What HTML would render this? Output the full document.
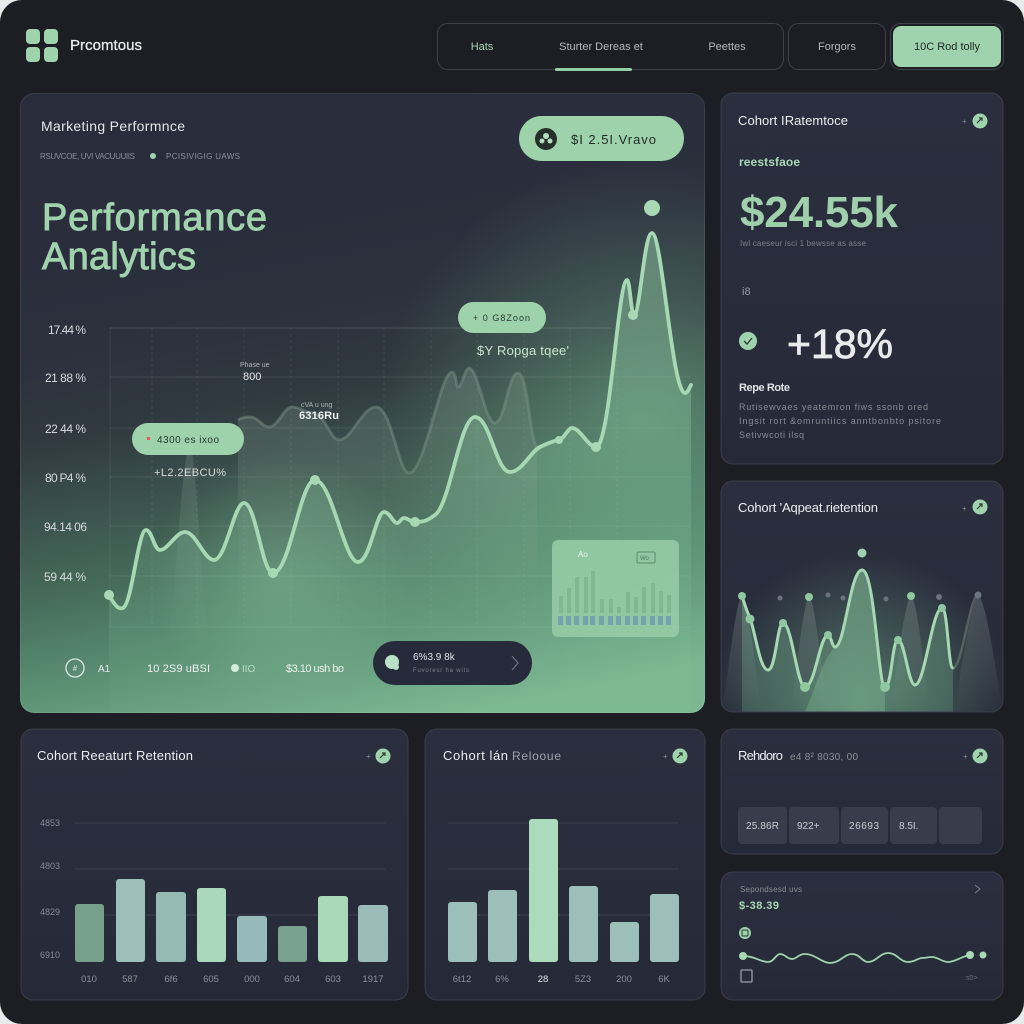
<!DOCTYPE html>
<html><head><meta charset="utf-8"><style>
html,body{margin:0;padding:0;background:#e9e9ea;}
svg{display:block;font-family:"Liberation Sans",sans-serif;}
</style></head><body>
<svg width="1024" height="1024" viewBox="0 0 1024 1024" xmlns="http://www.w3.org/2000/svg">
<defs>
<linearGradient id="mainbg" gradientUnits="userSpaceOnUse" x1="300" y1="100" x2="420" y2="720">
<stop offset="0" stop-color="#292c3b"/>
<stop offset="0.3" stop-color="#2b303d"/>
<stop offset="0.45" stop-color="#30393f"/>
<stop offset="0.7" stop-color="#466c5b"/>
<stop offset="0.84" stop-color="#5b9073"/>
<stop offset="1" stop-color="#7cb792"/>
</linearGradient>
<radialGradient id="glowR" cx="640" cy="420" r="260" gradientUnits="userSpaceOnUse">
<stop offset="0" stop-color="#7cc096" stop-opacity="0.45"/>
<stop offset="1" stop-color="#7cc096" stop-opacity="0"/>
</radialGradient>
<radialGradient id="glowL" cx="280" cy="580" r="130" gradientUnits="userSpaceOnUse">
<stop offset="0" stop-color="#8fcca4" stop-opacity="0.35"/>
<stop offset="1" stop-color="#8fcca4" stop-opacity="0"/>
</radialGradient>
<linearGradient id="areaG" x1="0" y1="0" x2="0" y2="1">
<stop offset="0" stop-color="#9ad7ae" stop-opacity="0.45"/>
<stop offset="0.6" stop-color="#86c59c" stop-opacity="0.25"/>
<stop offset="1" stop-color="#86c59c" stop-opacity="0.05"/>
</linearGradient>
<linearGradient id="ghostG" x1="0" y1="0" x2="0" y2="1">
<stop offset="0" stop-color="#8aa395" stop-opacity="0.28"/>
<stop offset="1" stop-color="#8aa395" stop-opacity="0.02"/>
</linearGradient>
<linearGradient id="cardG" x1="0" y1="0" x2="0" y2="1">
<stop offset="0" stop-color="#2a2e3e"/>
<stop offset="1" stop-color="#262a38"/>
</linearGradient>
<linearGradient id="c2area" x1="0" y1="0" x2="0" y2="1">
<stop offset="0" stop-color="#8ccba0" stop-opacity="0.6"/>
<stop offset="1" stop-color="#6aa684" stop-opacity="0.5"/>
</linearGradient>
<radialGradient id="c2glow" cx="860" cy="700" r="150" gradientUnits="userSpaceOnUse">
<stop offset="0" stop-color="#7fbf97" stop-opacity="0.5"/>
<stop offset="1" stop-color="#7fbf97" stop-opacity="0"/>
</radialGradient>
<linearGradient id="ghost2" x1="0" y1="0" x2="0" y2="1">
<stop offset="0" stop-color="#8b9a95" stop-opacity="0.35"/>
<stop offset="1" stop-color="#8b9a95" stop-opacity="0"/>
</linearGradient>
<clipPath id="mainClip"><rect x="20" y="93" width="685" height="620" rx="14"/></clipPath>
<clipPath id="c2Clip"><rect x="721" y="481" width="282" height="231" rx="12"/></clipPath>
</defs>

<!-- page background -->
<rect x="0" y="0" width="1024" height="1024" rx="22" fill="#1c1e24"/>

<!-- header -->
<rect x="26" y="29" width="14" height="15" rx="4" fill="#9fd3ad"/>
<rect x="44" y="29" width="14" height="15" rx="4" fill="#9fd3ad"/>
<rect x="26" y="47" width="14" height="15" rx="4" fill="#9fd3ad"/>
<rect x="44" y="47" width="14" height="15" rx="4" fill="#9fd3ad"/>
<text x="70" y="50" font-size="15" fill="#e8eaec" stroke="#e8eaec" stroke-width="0.3" textLength="72">Prcomtous</text>

<rect x="437.5" y="23.5" width="346" height="46" rx="10" fill="#1c1e24" stroke="#3e424b"/>
<text x="482" y="50" font-size="11" fill="#a8d8b5" text-anchor="middle">Hats</text>
<text x="601" y="50" font-size="11" fill="#b4b8be" text-anchor="middle">Sturter Dereas et</text>
<text x="727" y="50" font-size="11" fill="#b4b8be" text-anchor="middle">Peettes</text>
<rect x="555" y="68" width="77" height="3" rx="1.5" fill="#8fcfa4"/>
<rect x="788.5" y="23.5" width="97" height="46" rx="10" fill="#1c1e24" stroke="#3e424b"/>
<text x="837" y="50" font-size="11" fill="#b4b8be" text-anchor="middle">Forgors</text>
<rect x="890.5" y="23.5" width="113" height="46" rx="10" fill="#1c1e24" stroke="#3e424b"/>
<rect x="893" y="26" width="108" height="41" rx="8" fill="#9fd3ad"/>
<text x="947" y="50" font-size="11" fill="#1f2a24" text-anchor="middle">10C Rod tolly</text>

<!-- MAIN PANEL -->
<g clip-path="url(#mainClip)">
<rect x="20" y="93" width="685" height="620" fill="url(#mainbg)"/>
<rect x="20" y="93" width="685" height="620" fill="url(#glowR)"/>
<rect x="20" y="93" width="685" height="620" fill="url(#glowL)"/>

<!-- grid -->
<g stroke="#ffffff" stroke-opacity="0.09" stroke-width="1">
<line x1="110" y1="328" x2="612" y2="328" stroke-opacity="0.14"/>
<line x1="110" y1="377" x2="690" y2="377"/>
<line x1="110" y1="428" x2="690" y2="428"/>
<line x1="110" y1="477" x2="690" y2="477"/>
<line x1="110" y1="526" x2="690" y2="526"/>
<line x1="110" y1="576" x2="690" y2="576"/>
<line x1="110" y1="627" x2="690" y2="627"/>
</g>
<g stroke="#ffffff" stroke-opacity="0.08" stroke-width="1" stroke-dasharray="3 3">
<line x1="110" y1="328" x2="110" y2="627" stroke-dasharray="none"/>
<line x1="152" y1="328" x2="152" y2="627"/>
<line x1="197" y1="328" x2="197" y2="627"/>
<line x1="244" y1="328" x2="244" y2="627"/>
<line x1="291" y1="328" x2="291" y2="627"/>
<line x1="338" y1="328" x2="338" y2="627"/>
<line x1="384" y1="328" x2="384" y2="627"/>
<line x1="431" y1="328" x2="431" y2="627"/>
<line x1="477" y1="328" x2="477" y2="627"/>
<line x1="524" y1="328" x2="524" y2="627"/>
<line x1="570" y1="328" x2="570" y2="627"/>
<line x1="617" y1="328" x2="617" y2="627"/>
</g>

<!-- ghost spike + ghost line -->
<path d="M168,640 C176,600 180,470 190,440 C198,470 200,600 210,640 Z" fill="url(#ghostG)"/>
<path d="M238,420 C243,417 246,417 250,417 C258,417 262,427 269,427 C278,427 284,407 292,407 C300,407 305,413 312,413 C325,413 330,440 339,440 C352,440 362,407 376,407 C392,407 398,473 409,473 C425,473 440,372 452,372 C456,372 456,387 458,387 C462,387 465,368 469,368 C478,368 485,423 495,423 C505,423 508,373 518,373 C528,373 530,443 537,447 L537,640 L238,640 Z" fill="url(#ghostG)"/>
<path d="M238,420 C243,417 246,417 250,417 C258,417 262,427 269,427 C278,427 284,407 292,407 C300,407 305,413 312,413 C325,413 330,440 339,440 C352,440 362,407 376,407 C392,407 398,473 409,473 C425,473 440,372 452,372 C456,372 456,387 458,387 C462,387 465,368 469,368 C478,368 485,423 495,423 C505,423 508,373 518,373 C528,373 530,443 537,447" fill="none" stroke="#7f9489" stroke-opacity="0.45" stroke-width="3"/>

<!-- main area + line -->
<path d="M109,595 C114,604 118,610 123,608 C132,604 138,530 146,530 C152,530 154,550 160,550 C168,550 176,532 185,532 C196,532 204,560 214,560 C226,560 234,503 244,503 C256,503 262,573 273,573 C290,573 300,480 315,480 C332,480 344,562 358,562 C370,562 376,512 384,512 C390,512 393,523 397,523 C400,523 401,518 404,518 C408,518 410,522 415,522 C425,522 428,520 435,515 C450,505 460,417 475,417 C490,417 496,472 510,472 C522,472 530,452 540,447 C548,443 553,441 559,440 C564,439 568,428 572,428 C580,428 588,447 596,447 C610,447 618,280 627,280 C630,280 631,315 634,315 C640,315 644,233 652,233 C662,233 672,393 685,393 C688,393 689,388 691,385 L691,713 L109,713 Z" fill="url(#areaG)"/>
<path d="M109,595 C114,604 118,610 123,608 C132,604 138,530 146,530 C152,530 154,550 160,550 C168,550 176,532 185,532 C196,532 204,560 214,560 C226,560 234,503 244,503 C256,503 262,573 273,573 C290,573 300,480 315,480 C332,480 344,562 358,562 C370,562 376,512 384,512 C390,512 393,523 397,523 C400,523 401,518 404,518 C408,518 410,522 415,522 C425,522 428,520 435,515 C450,505 460,417 475,417 C490,417 496,472 510,472 C522,472 530,452 540,447 C548,443 553,441 559,440 C564,439 568,428 572,428 C580,428 588,447 596,447 C610,447 618,280 627,280 C630,280 631,315 634,315 C640,315 644,233 652,233 C662,233 672,393 685,393 C688,393 689,388 691,385" fill="none" stroke="#a6d8b3" stroke-width="3.8" stroke-linecap="round"/>
<g fill="#a8d9b4">
<circle cx="109" cy="595" r="5"/>
<circle cx="273" cy="573" r="5"/>
<circle cx="315" cy="480" r="5"/>
<circle cx="415" cy="522" r="5"/>
<circle cx="559" cy="440" r="4"/>
<circle cx="596" cy="447" r="5"/>
<circle cx="633" cy="315" r="5"/>
<circle cx="652" cy="208" r="8"/>
</g>

<!-- inset mini card -->
<rect x="552" y="540" width="127" height="97" rx="6" fill="#98cea8" fill-opacity="0.85"/>
<text x="578" y="557" font-size="8" fill="#e8f4ec">Ao</text>
<rect x="637" y="552" width="18" height="11" rx="1.5" fill="none" stroke="#5e8a6e" stroke-width="1"/>
<text x="640" y="560" font-size="6" fill="#4d735c">Wo</text>
<g fill="#7fb891">
<rect x="559" y="596" width="4" height="17"/>
<rect x="567" y="588" width="4" height="25"/>
<rect x="575" y="577" width="4" height="36"/>
<rect x="584" y="577" width="4" height="36"/>
<rect x="591" y="571" width="4" height="42"/>
<rect x="600" y="599" width="4" height="14"/>
<rect x="609" y="599" width="4" height="14"/>
<rect x="617" y="607" width="4" height="6"/>
<rect x="626" y="592" width="4" height="21"/>
<rect x="634" y="597" width="4" height="16"/>
<rect x="642" y="587" width="4" height="26"/>
<rect x="651" y="583" width="4" height="30"/>
<rect x="659" y="591" width="4" height="22"/>
<rect x="667" y="595" width="4" height="18"/>
</g>
<g fill="#74a3b0">
<rect x="558" y="616" width="5" height="9"/><rect x="566" y="616" width="5" height="9"/><rect x="574" y="616" width="5" height="9"/><rect x="583" y="616" width="5" height="9"/><rect x="590" y="616" width="5" height="9"/><rect x="599" y="616" width="5" height="9"/><rect x="608" y="616" width="5" height="9"/><rect x="616" y="616" width="5" height="9"/><rect x="625" y="616" width="5" height="9"/><rect x="633" y="616" width="5" height="9"/><rect x="641" y="616" width="5" height="9"/><rect x="650" y="616" width="5" height="9"/><rect x="658" y="616" width="5" height="9"/><rect x="666" y="616" width="5" height="9"/>
</g>
</g>
<rect x="20.5" y="93.5" width="684" height="619" rx="14" fill="none" stroke="#ffffff" stroke-opacity="0.08"/>

<!-- main panel texts -->
<text x="41" y="131" font-size="14" fill="#e4e6e8" textLength="144">Marketing Performnce</text>
<text x="40" y="159" font-size="8" fill="#8a8f98" textLength="95">RSUVCOE, UVI VACUUUIIS</text>
<circle cx="153" cy="156" r="3" fill="#9fd3ad"/>
<text x="166" y="159" font-size="8" fill="#8a8f98" textLength="74">PCISIVIGIG UAWS</text>

<rect x="519" y="116" width="165" height="45" rx="22.5" fill="#9ed2ab"/>
<circle cx="546" cy="139" r="11" fill="#26302b"/>
<circle cx="546" cy="136" r="3" fill="#b5dfc2"/>
<circle cx="542" cy="141" r="2.5" fill="#b5dfc2"/>
<circle cx="550" cy="141" r="2.5" fill="#b5dfc2"/>
<text x="571" y="144" font-size="13" fill="#1e2a24" textLength="85">$I 2.5I.Vravo</text>

<text x="42" y="230" font-size="38" fill="#a0d3ad" stroke="#a0d3ad" stroke-width="0.9" textLength="225">Performance</text>
<text x="42" y="269" font-size="38" fill="#a0d3ad" stroke="#a0d3ad" stroke-width="0.9" textLength="154">Analytics</text>

<g font-size="12" fill="#d6d9dd">
<text x="48" y="334" textLength="38">17.44 %</text>
<text x="45" y="382" textLength="41">21 88 %</text>
<text x="45" y="433" textLength="41">22 44 %</text>
<text x="45" y="482" textLength="41">80 P4 %</text>
<text x="44" y="531" textLength="43">94.14 06</text>
<text x="44" y="581" textLength="42">59 44 %</text>
</g>

<rect x="458" y="302" width="88" height="31" rx="15.5" fill="#9ed2ab"/>
<text x="473" y="321" font-size="9" fill="#2a3a30" textLength="57">+ 0 G8Zoon</text>
<text x="477" y="355" font-size="13" fill="#c7e6d0" textLength="92">$Y Ropga tqee'</text>

<text x="240" y="367" font-size="7" fill="#b0b4bb">Phase ue</text>
<text x="243" y="380" font-size="11" fill="#e4e6e8">800</text>
<text x="301" y="407" font-size="7" fill="#b0b4bb">cVA u ung</text>
<text x="299" y="419" font-size="11" font-weight="bold" fill="#eef0f0" textLength="40">6316Ru</text>

<rect x="132" y="423" width="112" height="32" rx="16" fill="#9ed2ab"/>
<rect x="147" y="437" width="3" height="3" fill="#d9605a"/>
<text x="157" y="443" font-size="10" fill="#2a3a30" textLength="62">4300 es ixoo</text>
<text x="154" y="476" font-size="11" fill="#d8dcd8" textLength="72">+L2.2EBCU%</text>

<!-- legend row -->
<circle cx="75" cy="668" r="9" fill="none" stroke="#e0e6e2" stroke-width="1.3"/>
<text x="75" y="671" font-size="8" fill="#e0e6e2" text-anchor="middle">#</text>
<text x="98" y="672" font-size="10" fill="#e8eaec">A1</text>
<text x="147" y="672" font-size="11" fill="#eef0f0" textLength="63">10 2S9 uBSI</text>
<circle cx="235" cy="668" r="4" fill="#d2ecda"/>
<text x="242" y="672" font-size="10" fill="#b8dcc4">IIO</text>
<text x="286" y="672" font-size="11" fill="#eef0f0" textLength="58">$3.10 ush bo</text>

<rect x="373" y="641" width="159" height="44" rx="22" fill="#262a3a"/>
<circle cx="392" cy="662" r="7" fill="#b9e2c6"/>
<circle cx="396" cy="667" r="3" fill="#b9e2c6"/>
<text x="413" y="660" font-size="10" fill="#e0e2e5">6%3.9 8k</text>
<text x="413" y="672" font-size="6" fill="#7d828c" textLength="56">Fuvoresr ha wits</text>
<path d="M512,656 L518,663 L512,670" fill="none" stroke="#6d727d" stroke-width="1.2"/>

<!-- RIGHT CARD 1 -->
<rect x="721" y="93" width="282" height="371" rx="12" fill="url(#cardG)" stroke="#3a3e4c"/>
<text x="738" y="125" font-size="13" fill="#eceef0" textLength="110">Cohort IRatemtoce</text>
<text x="962" y="124" font-size="8" fill="#8a8f98">+</text>
<circle cx="980" cy="121" r="7.5" fill="#9fd3ad"/>
<path d="M977,123 L982,118 M979,118 L982,118 L982,121" fill="none" stroke="#2b3a30" stroke-width="1.2"/>
<text x="739" y="166" font-size="12" font-weight="bold" fill="#a8d8b5" textLength="61">reestsfaoe</text>
<text x="740" y="227" font-size="44" font-weight="bold" fill="#9fd0ab" textLength="158">$24.55k</text>
<text x="740" y="246" font-size="8" fill="#7d828c" textLength="126">Iwl caeseur isci 1 bewsse as asse</text>
<text x="742" y="295" font-size="11" fill="#9a9ea6">i8</text>
<circle cx="748" cy="341" r="9" fill="#9fd3ad"/>
<path d="M744,341 L747,344 L752,338" fill="none" stroke="#2b3a30" stroke-width="1.3"/>
<text x="787" y="358" font-size="41" fill="#e8eaec" stroke="#e8eaec" stroke-width="0.8" textLength="106">+18%</text>
<text x="739" y="391" font-size="11" font-weight="bold" fill="#e0e2e5" textLength="51">Repe Rote</text>
<g font-size="9" fill="#868b94">
<text x="739" y="410" textLength="189">Rutisewvaes yeatemron fiws ssonb ored</text>
<text x="739" y="424" textLength="202">Ingsit rort &amp;omruntiics anntbonbto psitore</text>
<text x="739" y="438" textLength="65">Setivwcoti ilsq</text>
</g>

<!-- RIGHT CARD 2 -->
<rect x="721" y="481" width="282" height="231" rx="12" fill="url(#cardG)"/>
<g clip-path="url(#c2Clip)">
<rect x="721" y="481" width="282" height="231" fill="url(#c2glow)"/>
<g fill="url(#ghost2)">
<path d="M722,712 C730,660 736,600 742,596 C748,600 754,660 762,712 Z"/>
<path d="M790,712 C798,660 804,600 809,597 C815,600 820,660 828,712 Z"/>
<path d="M890,712 C898,660 905,600 911,596 C917,600 923,660 930,712 Z"/>
<path d="M955,712 C962,660 972,600 978,595 C986,600 994,660 1003,712 Z"/>
</g>
<path d="M742,596 C745,605 747,612 750,618 C756,635 760,670 768,670 C776,670 777,623 783,623 C792,623 797,687 805,687 C815,687 820,635 828,635 C831,635 832,647 835,647 C845,647 850,570 862,570 C875,570 878,687 885,687 C892,687 892,640 898,640 C905,640 908,685 915,685 C925,685 932,608 942,608 C948,608 948,668 953,668 L953,712 L742,712 Z" fill="url(#c2area)" opacity="0.6"/>
<path d="M835,647 C845,647 850,570 862,570 C875,570 878,687 885,687 L885,712 L805,712 C815,690 822,660 835,647 Z" fill="#8ccba0" opacity="0.3"/>
<path d="M742,596 C745,605 747,612 750,618 C756,635 760,670 768,670 C776,670 777,623 783,623 C792,623 797,687 805,687 C815,687 820,635 828,635 C831,635 832,647 835,647 C845,647 850,570 862,570 C875,570 878,687 885,687 C892,687 892,640 898,640 C905,640 908,685 915,685 C925,685 932,608 942,608 C948,608 948,668 953,668" fill="none" stroke="#a6d8b3" stroke-width="3" stroke-linecap="round"/>
<path d="M953,668 C962,668 970,595 978,595" fill="none" stroke="#6e7f78" stroke-width="2.5" opacity="0.6"/>
<g fill="#8fc7a0">
<circle cx="742" cy="596" r="4"/>
<circle cx="750" cy="619" r="4.5"/>
<circle cx="783" cy="623" r="4"/>
<circle cx="805" cy="687" r="5"/>
<circle cx="828" cy="635" r="4"/>
<circle cx="885" cy="687" r="5"/>
<circle cx="898" cy="640" r="4"/>
<circle cx="942" cy="608" r="4"/>
<circle cx="809" cy="597" r="4"/>
<circle cx="911" cy="596" r="4"/>
<circle cx="862" cy="553" r="4.5" fill="#9fd3ad"/>
</g>
<g fill="#6c7280">
<circle cx="780" cy="598" r="2.5"/>
<circle cx="828" cy="595" r="2.5"/>
<circle cx="843" cy="598" r="2.5"/>
<circle cx="886" cy="599" r="2.5"/>
<circle cx="939" cy="597" r="3"/>
<circle cx="978" cy="595" r="3.5"/>
</g>
</g>
<rect x="721" y="481" width="282" height="231" rx="12" fill="none" stroke="#3a3e4c"/>
<text x="738" y="512" font-size="13" fill="#eceef0" textLength="140">Cohort 'Aqpeat.rietention</text>
<text x="962" y="511" font-size="8" fill="#8a8f98">+</text>
<circle cx="980" cy="507" r="7.5" fill="#9fd3ad"/>
<path d="M977,509 L982,504 M979,504 L982,504 L982,507" fill="none" stroke="#2b3a30" stroke-width="1.2"/>

<!-- BOTTOM LEFT CARD -->
<rect x="21" y="729" width="387" height="271" rx="12" fill="url(#cardG)" stroke="#3a3e4c"/>
<text x="37" y="760" font-size="13" fill="#eceef0" textLength="156">Cohort Reeaturt Retention</text>
<text x="366" y="759" font-size="8" fill="#8a8f98">+</text>
<circle cx="383" cy="756" r="7.5" fill="#9fd3ad"/>
<path d="M380,758 L385,753 M382,753 L385,753 L385,756" fill="none" stroke="#2b3a30" stroke-width="1.2"/>
<g stroke="#3c4050" stroke-width="1">
<line x1="75" y1="823" x2="386" y2="823"/>
<line x1="75" y1="869" x2="386" y2="869"/>
<line x1="75" y1="915" x2="386" y2="915"/>
</g>
<g font-size="9" fill="#858a93">
<text x="40" y="826">4853</text>
<text x="40" y="869">4803</text>
<text x="40" y="915">4829</text>
<text x="40" y="958">6910</text>
</g>
<rect x="75" y="904" width="29" height="58" rx="3" fill="#78a18b"/>
<rect x="116" y="879" width="29" height="83" rx="3" fill="#9dbfb9"/>
<rect x="156" y="892" width="30" height="70" rx="3" fill="#95b9b3"/>
<rect x="197" y="888" width="29" height="74" rx="3" fill="#a9d9ba"/>
<rect x="237" y="916" width="30" height="46" rx="3" fill="#96b9b9"/>
<rect x="278" y="926" width="29" height="36" rx="3" fill="#78a18f"/>
<rect x="318" y="896" width="30" height="66" rx="3" fill="#aad9ba"/>
<rect x="358" y="905" width="30" height="57" rx="3" fill="#9bbcb8"/>
<g font-size="9.5" fill="#8b9098" text-anchor="middle">
<text x="89" y="982">010</text>
<text x="130" y="982">587</text>
<text x="171" y="982">6f6</text>
<text x="211" y="982">605</text>
<text x="252" y="982">000</text>
<text x="292" y="982">604</text>
<text x="333" y="982">603</text>
<text x="373" y="982">1917</text>
</g>

<!-- BOTTOM MIDDLE CARD -->
<rect x="425" y="729" width="280" height="271" rx="12" fill="url(#cardG)" stroke="#3a3e4c"/>
<text x="443" y="760" font-size="13" fill="#eceef0" textLength="65">Cohort lán</text>
<text x="512" y="760" font-size="12" fill="#a0a4ac" textLength="49">Relooue</text>
<text x="663" y="759" font-size="8" fill="#8a8f98">+</text>
<circle cx="680" cy="756" r="7.5" fill="#9fd3ad"/>
<path d="M677,758 L682,753 M679,753 L682,753 L682,756" fill="none" stroke="#2b3a30" stroke-width="1.2"/>
<g stroke="#3c4050" stroke-width="1">
<line x1="448" y1="823" x2="679" y2="823"/>
<line x1="448" y1="869" x2="679" y2="869"/>
<line x1="448" y1="915" x2="679" y2="915"/>
</g>
<rect x="448" y="902" width="29" height="60" rx="3" fill="#9cbfb9"/>
<rect x="488" y="890" width="29" height="72" rx="3" fill="#9cbfb9"/>
<rect x="529" y="819" width="29" height="143" rx="3" fill="#acdbbc"/>
<rect x="569" y="886" width="29" height="76" rx="3" fill="#9cbfb9"/>
<rect x="610" y="922" width="29" height="40" rx="3" fill="#9cbfb9"/>
<rect x="650" y="894" width="29" height="68" rx="3" fill="#9cbfb9"/>
<g font-size="9.5" fill="#8b9098" text-anchor="middle">
<text x="462" y="982">6t12</text>
<text x="502" y="982">6%</text>
<text x="543" y="982" fill="#e4e6e8">28</text>
<text x="583" y="982">5Z3</text>
<text x="624" y="982">200</text>
<text x="664" y="982">6K</text>
</g>

<!-- RIGHT BOTTOM CARD A -->
<rect x="721" y="729" width="282" height="125" rx="12" fill="url(#cardG)" stroke="#3a3e4c"/>
<text x="738" y="760" font-size="13" fill="#eceef0" textLength="45">Rehdoro</text>
<text x="790" y="760" font-size="10" fill="#8a8f98" textLength="68">e4 8² 8030, 00</text>
<text x="963" y="759" font-size="8" fill="#8a8f98">+</text>
<circle cx="980" cy="756" r="7.5" fill="#9fd3ad"/>
<path d="M977,758 L982,753 M979,753 L982,753 L982,756" fill="none" stroke="#2b3a30" stroke-width="1.2"/>
<g fill="#393d4b">
<rect x="738" y="807" width="49" height="37" rx="4"/>
<rect x="789" y="807" width="50" height="37" rx="4"/>
<rect x="841" y="807" width="47" height="37" rx="4"/>
<rect x="890" y="807" width="47" height="37" rx="4"/>
<rect x="939" y="807" width="43" height="37" rx="4"/>
</g>
<g font-size="10" fill="#c8ccd2">
<text x="746" y="829" textLength="33">25.86R</text>
<text x="797" y="829">922+</text>
<text x="849" y="829" textLength="30">26693</text>
<text x="899" y="829">8.5I.</text>
</g>

<!-- RIGHT BOTTOM CARD B -->
<rect x="721" y="872" width="282" height="128" rx="12" fill="url(#cardG)" stroke="#3a3e4c"/>
<text x="740" y="892" font-size="8" fill="#8a8f98" textLength="62">Sepondsesd uvs</text>
<path d="M975,885 L980,889 L975,893" fill="none" stroke="#7d828c" stroke-width="1"/>
<text x="739" y="909" font-size="11" font-weight="bold" fill="#a8d8b5" textLength="40">$-38.39</text>
<circle cx="745" cy="933" r="6" fill="#9fd3ad"/>
<rect x="742" y="930" width="6" height="6" rx="1" fill="none" stroke="#2b3a30" stroke-width="1"/>
<path d="M743,956 C755,956 760,962 768,962 C774,962 776,954 780,954 C785,954 787,959 792,959 C797,959 798,954 805,954 C815,954 822,963 830,963 C840,963 844,954 852,954 C860,954 862,962 868,962 C876,962 880,953 888,953 C897,953 900,962 908,962 C915,962 918,958 922,958 C926,958 928,957 932,957 C938,957 942,962 948,962 C956,962 962,956 970,955" fill="none" stroke="#9fd3ad" stroke-width="1.8"/>
<circle cx="743" cy="956" r="4" fill="#a8d9b4"/>
<circle cx="970" cy="955" r="4" fill="#a8d9b4"/>
<circle cx="983" cy="955" r="3.5" fill="#a8d9b4"/>
<rect x="741" y="970" width="11" height="12" rx="1" fill="none" stroke="#9ca0a8" stroke-width="1.3"/>
<text x="966" y="980" font-size="7" fill="#6d727d">s0&gt;</text>
</svg>
</body></html>
